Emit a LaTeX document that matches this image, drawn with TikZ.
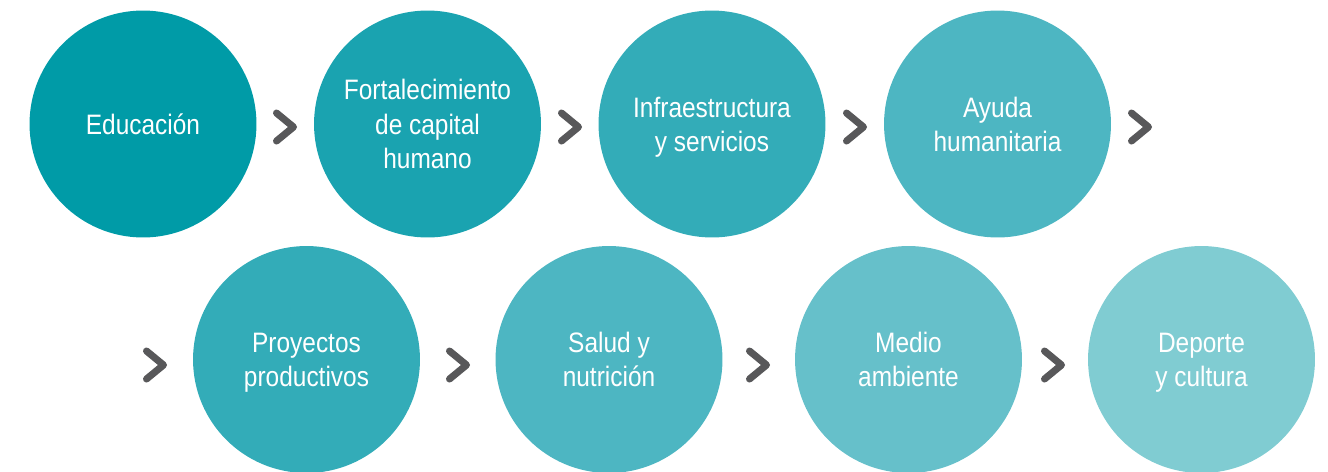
\documentclass[tikz,border=0pt]{standalone}
\usepackage{fontspec}
\setmainfont{Liberation Sans}[FakeStretch=0.87]
\definecolor{ceduc}{HTML}{009BA7}
\definecolor{cfort}{HTML}{1AA3B0}
\definecolor{cinfra}{HTML}{33ACB8}
\definecolor{cayuda}{HTML}{4DB6C2}
\definecolor{cmedio}{HTML}{66C0CA}
\definecolor{cdep}{HTML}{80CCD2}
\definecolor{chevgray}{HTML}{58585A}
\begin{document}
\begin{tikzpicture}[x=0.02cm, y=-0.02cm]
			\tikzset{
			    area/.style= {circle, fill=#1, text=white, minimum size=4.54cm, inner sep=0pt, align=center, font=\fontsize{16}{19.5}\selectfont, text depth=0pt},
			    chevline/.style= {draw=chevgray, line width=4pt, line cap=round, line join=round},
			    chev/.pic= {\draw[chevline] (-8.5,-14) -- (8.5,0) -- (-8.5,14);},
			}
			\clip (0,0) rectangle (1328,471);
			
			\node[area=ceduc] (educ) at (143, 124) {Educación};
			\node[area=cfort] (fort) at (427.5, 124) {Fortalecimiento\\de capital\\humano};
			\node[area=cinfra] (infra) at (712, 124) {Infraestructura\\y servicios};
			\node[area=cayuda] (ayuda) at (997.5, 124) {Ayuda\\humanitaria};
			
			\node[area=cinfra] (proy) at (306.5, 359.5) {Proyectos\\productivos};
			\node[area=cayuda] (salud) at (609, 359.5) {Salud y\\nutrición};
			\node[area=cmedio] (medio) at (908.5, 359.5) {Medio\\ambiente};
			\node[area=cdep] (dep) at (1201.5, 359.5) {Deporte\\y cultura};
			
			\pic at (285, 127) {chev};
			\pic at (570, 127) {chev};
			\pic at (855, 127) {chev};
			\pic at (1140, 127) {chev};
			\pic at (155, 365) {chev};
			\pic at (458, 365) {chev};
			\pic at (758, 365) {chev};
			\pic at (1053, 365) {chev};
		\end{tikzpicture}
\end{document}
